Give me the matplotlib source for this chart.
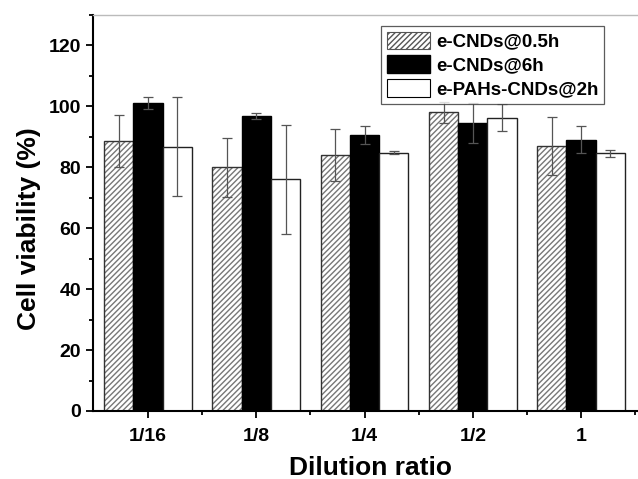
import matplotlib
matplotlib.use("Agg")
import matplotlib.pyplot as plt
import numpy as np
from matplotlib.patches import Patch

plt.rcParams['font.family'] = ['Liberation Sans', 'DejaVu Sans']
plt.rcParams['font.weight'] = 'bold'

categories = ["1/16", "1/8", "1/4", "1/2", "1"]
series_names = ["e-CNDs@0.5h", "e-CNDs@6h", "e-PAHs-CNDs@2h"]
cnd_05h = [88.5, 80.0, 84.0, 98.0, 87.0]
cnd_05h_err = [8.5, 9.7, 8.5, 3.5, 9.5]
cnd_6h = [101.0, 96.8, 90.5, 94.5, 89.0]
cnd_6h_err = [2.0, 1.0, 3.0, 6.5, 4.5]
pahs_2h = [86.7, 76.0, 84.7, 96.3, 84.5]
pahs_2h_err = [16.3, 17.8, 0.5, 4.5, 1.0]

fig = plt.figure(figsize=(6.38, 4.79), dpi=100)
ax = fig.add_axes([0.146, 0.142, 0.853, 0.827])

x = np.arange(len(categories))
w = 0.27
ekw = dict(ecolor='#555555', elinewidth=0.9, capsize=3.5, capthick=0.9)

# hatched series
ax.bar(x - w, cnd_05h, w, color='white', edgecolor='#777777', hatch='//////', linewidth=0)
ax.bar(x - w, cnd_05h, w, color='none', edgecolor='#333333', linewidth=1.0)
ax.errorbar(x - w, cnd_05h, yerr=cnd_05h_err, fmt='none', **ekw)
ax.bar(x, cnd_6h, w, color='black', edgecolor='black', linewidth=1.0)
ax.errorbar(x, cnd_6h, yerr=cnd_6h_err, fmt='none', **ekw)
ax.bar(x + w, pahs_2h, w, color='white', edgecolor='#222222', linewidth=1.0)
ax.errorbar(x + w, pahs_2h, yerr=pahs_2h_err, fmt='none', **ekw)

ax.set_xlim(-0.507, 4.52)
ax.set_ylim(0, 130)
ax.set_xticks(x)
ax.set_xticklabels(categories, fontsize=14, fontweight='bold')
ax.set_xticks(list(x[:-1] + 0.5) + [4.5], minor=True)
ax.set_yticks(np.arange(0, 121, 20))
ax.set_yticks(np.arange(10, 131, 20), minor=True)
ax.tick_params(axis='y', labelsize=14, direction='out', length=5, width=1.3)
ax.tick_params(axis='x', labelsize=14, direction='out', length=5, width=1.3, pad=7)
ax.tick_params(which='minor', length=3, width=1.3)
for lab in ax.get_yticklabels():
    lab.set_fontweight('bold')

ax.spines['left'].set_linewidth(1.5)
ax.spines['bottom'].set_linewidth(1.5)
ax.spines['top'].set_color('#bbbbbb')
ax.spines['top'].set_linewidth(1.0)
ax.spines['right'].set_visible(False)

ax.set_ylabel("Cell viability (%)", fontsize=19, fontweight='bold', labelpad=6)
ax.set_xlabel("Dilution ratio", fontsize=19, fontweight='bold', labelpad=8)
ax.yaxis.label.set_y(0.46)
ax.xaxis.label.set_x(0.509)

handles = [
    Patch(facecolor='white', edgecolor='#555555', hatch='//////', linewidth=0.8),
    Patch(facecolor='black', edgecolor='black'),
    Patch(facecolor='white', edgecolor='black', linewidth=0.8),
]
leg = ax.legend(handles, series_names, loc='upper left', bbox_to_anchor=(0.529, 0.972),
                prop={'weight': 'bold', 'size': 13.5}, frameon=True, fancybox=False,
                edgecolor='#333333', handlelength=2.3, handleheight=1.05, handletextpad=0.32,
                borderpad=0.3, labelspacing=0.25, borderaxespad=0)
leg.get_frame().set_linewidth(0.9)

fig.savefig("out.png", dpi=100)
